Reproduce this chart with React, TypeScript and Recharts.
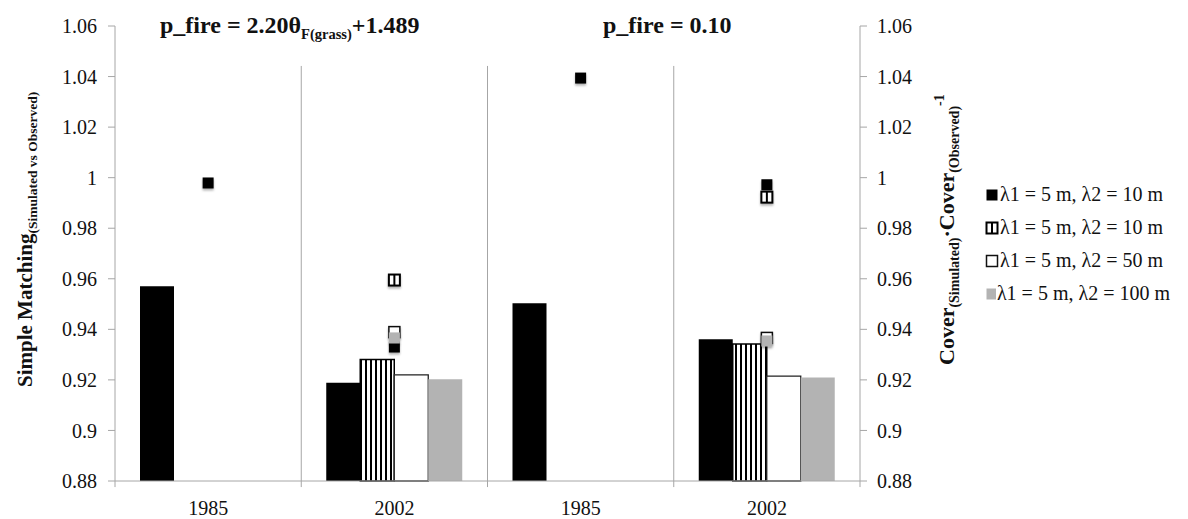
import React from 'react';
import {ComposedChart, Bar, Line, XAxis, YAxis, Legend, ReferenceLine, Customized} from 'recharts';

const FONT = '"Liberation Serif", "Times New Roman", serif';
const AXIS_GREY = '#a6a6a6';

// two panels (fire models), each with a 1985 and a 2002 slot
const panels = ['fit', 'fit', 'const', 'const'];
const years = ['1985', '2002', '1985', '2002'];

// simple matching index -> bars on the left axis
const smSolid10 = [0.957, 0.9189, 0.9503, 0.9361];
const smStriped10 = [null, 0.9281, null, 0.9342];
const smWhite50 = [null, 0.922, null, 0.9215];
const smGrey100 = [null, 0.9203, null, 0.9209];

// simulated / observed cover -> square markers on the right axis
const crSolid10 = [0.9979, 0.933, 1.0394, 0.9972];
const crStriped10 = [null, 0.9595, null, 0.9923];
const crWhite50 = [null, 0.9389, null, 0.9366];
const crGrey100 = [null, 0.9366, null, 0.9354];

const yTicks = [0.88, 0.9, 0.92, 0.94, 0.96, 0.98, 1, 1.02, 1.04, 1.06];
const seriesLabels = ['λ1 = 5 m, λ2 = 10 m', 'λ1 = 5 m, λ2 = 10 m', 'λ1 = 5 m, λ2 = 50 m', 'λ1 = 5 m, λ2 = 100 m'];
const seriesKinds = ['solid', 'striped', 'white', 'grey'];

// where the panel dividers stop, in axis units
const SEP_TOP = 1.0442;
const SEP_BOTTOM = 0.8776;

const data = years.map((year, i) => ({
    slot: `${panels[i]}-${year}`,
    sm0: smSolid10[i], sm1: smStriped10[i], sm2: smWhite50[i], sm3: smGrey100[i],
    cr0: crSolid10[i], cr1: crStriped10[i], cr2: crWhite50[i], cr3: crGrey100[i],
}));

const fmtTick = (v: number) => String(Number(v.toFixed(2)));

const Marker = ({kind, cx, cy}: {kind: string, cx: number, cy: number}) => {
    const s = 11;
    const x = cx - s / 2;
    const y = cy - s / 2;
    if (kind === 'solid') return <rect x={x} y={y} width={s} height={s} fill="#000"/>;
    if (kind === 'striped') return (
        <g>
            <rect x={x} y={y} width={s} height={s} fill="#fff" stroke="#000" strokeWidth={2}/>
            <line x1={cx} x2={cx} y1={y} y2={y + s} stroke="#000" strokeWidth={2}/>
        </g>
    );
    if (kind === 'white') return <rect x={x} y={y} width={s} height={s} fill="#fff" stroke="#111" strokeWidth={1.5}/>;
    return <rect x={x} y={y} width={s} height={s} fill="#b3b3b3"/>;
};

const markerDot = (kind: string) => (p: any) => {
    const key = `dot-${kind}-${p.index}`;
    if (p.value == null || p.cy == null || isNaN(p.cy)) return <g key={key}/>;
    return <g key={key} filter="url(#markShadow)"><Marker kind={kind} cx={p.cx} cy={p.cy}/></g>;
};

const LegendBox = () => (
    <div style={{fontFamily: FONT, fontSize: 20, color: '#111', paddingLeft: 15}}>
        {seriesKinds.map((kind, i) => (
            <div key={i} style={{display: 'flex', alignItems: 'center', height: 33, whiteSpace: 'nowrap'}}>
                <svg width={14} height={14} style={{marginRight: 1}}>
                    <Marker kind={kind} cx={7} cy={7}/>
                </svg>
                <span>{seriesLabels[i]}</span>
            </div>
        ))}
    </div>
);

// patterns, shadow, panel titles and the two rotated axis titles
const Decorations = () => (
    <g>
        <defs>
            <pattern id="vStripeFill" width={5} height={10} patternUnits="userSpaceOnUse">
                <rect width={5} height={10} fill="#fff"/>
                <rect width={2} height={10} fill="#000"/>
            </pattern>
            <filter id="markShadow" x="-50%" y="-50%" width="200%" height="200%">
                <feDropShadow dx={0} dy={2} stdDeviation={1} floodColor="#000" floodOpacity={0.3}/>
            </filter>
        </defs>
        <text x={160} y={33} fontFamily={FONT} fontWeight="bold" fontSize={24} fill="#111">
            p_fire = 2.20θ
            <tspan fontSize={14.5} dy={6}>F(grass)</tspan>
            <tspan fontSize={24} dy={-6}>+1.489</tspan>
        </text>
        <text x={603} y={33} fontFamily={FONT} fontWeight="bold" fontSize={24} fill="#111">
            p_fire = 0.10
        </text>
        <text transform="translate(32, 387) rotate(-90)" fontFamily={FONT} fontWeight="bold" fontSize={21} fill="#111">
            Simple Matching
            <tspan fontSize={13.5} dy={5}>(Simulated vs Observed)</tspan>
        </text>
        <text transform="translate(954, 365) rotate(-90)" fontFamily={FONT} fontWeight="bold" fontSize={22} fill="#111">
            Cover
            <tspan fontSize={14} dy={5}>(Simulated)</tspan>
            <tspan fontSize={22} dy={-5}>·Cover</tspan>
            <tspan fontSize={14} dy={5}>(Observed)</tspan>
            <tspan fontSize={14} dy={-15}>-1</tspan>
        </text>
    </g>
);

const App = (): JSX.Element => {
    const tickStyle = {fill: '#111', fontSize: 20, fontFamily: FONT};
    const dividers = data.slice(1).map(d => d.slot);

    return (
        <div style={{width: 1188, height: 519}}>
            <style>{'body { margin: 0; }'}</style>
            <ComposedChart
                width={1188}
                height={519}
                data={data}
                margin={{top: 26, right: 18, left: 0, bottom: 0}}
                barGap={0}
                barSize={34}
                style={{fontFamily: FONT}}
            >
                <Customized component={<Decorations/>}/>
                <XAxis dataKey="slot" height={38} tickFormatter={(v: string) => v.split('-')[1]}
                       axisLine={{stroke: AXIS_GREY}} tickLine={false} tickSize={0} tickMargin={20} tick={tickStyle}/>
                <YAxis yAxisId="left" width={115} domain={[0.88, 1.06]} ticks={yTicks} tickFormatter={fmtTick}
                       axisLine={{stroke: AXIS_GREY}} tickLine={{stroke: AXIS_GREY}} tickSize={7} tickMargin={11}
                       tick={tickStyle} interval={0}/>
                <YAxis yAxisId="right" orientation="right" width={110} domain={[0.88, 1.06]} ticks={yTicks}
                       tickFormatter={fmtTick} axisLine={{stroke: AXIS_GREY}} tickLine={{stroke: AXIS_GREY}}
                       tickSize={7} tickMargin={10} tick={tickStyle} interval={0}/>
                {dividers.map(slot => (
                    <ReferenceLine key={slot} yAxisId="left" position="start" ifOverflow="visible"
                                   segment={[{x: slot, y: SEP_TOP}, {x: slot, y: SEP_BOTTOM}]}
                                   stroke={AXIS_GREY} strokeWidth={1}/>
                ))}
                <ReferenceLine yAxisId="left" position="start" ifOverflow="visible"
                               segment={[{x: data[0].slot, y: 0.88}, {x: data[0].slot, y: SEP_BOTTOM}]}
                               stroke={AXIS_GREY}/>
                <ReferenceLine yAxisId="left" position="end" ifOverflow="visible"
                               segment={[{x: data[3].slot, y: 0.88}, {x: data[3].slot, y: SEP_BOTTOM}]}
                               stroke={AXIS_GREY}/>
                <Bar yAxisId="left" dataKey="sm0" fill="#000" isAnimationActive={false}/>
                <Bar yAxisId="left" dataKey="sm1" fill="url(#vStripeFill)" stroke="#000" strokeWidth={1.5}
                     isAnimationActive={false}/>
                <Bar yAxisId="left" dataKey="sm2" fill="#fff" stroke="#222" strokeWidth={1.3} isAnimationActive={false}/>
                <Bar yAxisId="left" dataKey="sm3" fill="#b3b3b3" isAnimationActive={false}/>
                {seriesKinds.map((kind, i) => (
                    <Line key={kind} yAxisId="right" dataKey={`cr${i}`} stroke="none" dot={markerDot(kind)}
                          activeDot={false} isAnimationActive={false}/>
                ))}
                <Legend layout="vertical" align="right" verticalAlign="middle" content={<LegendBox/>}
                        wrapperStyle={{width: 200, top: 178}}/>
            </ComposedChart>
        </div>
    );
};

export default App;
